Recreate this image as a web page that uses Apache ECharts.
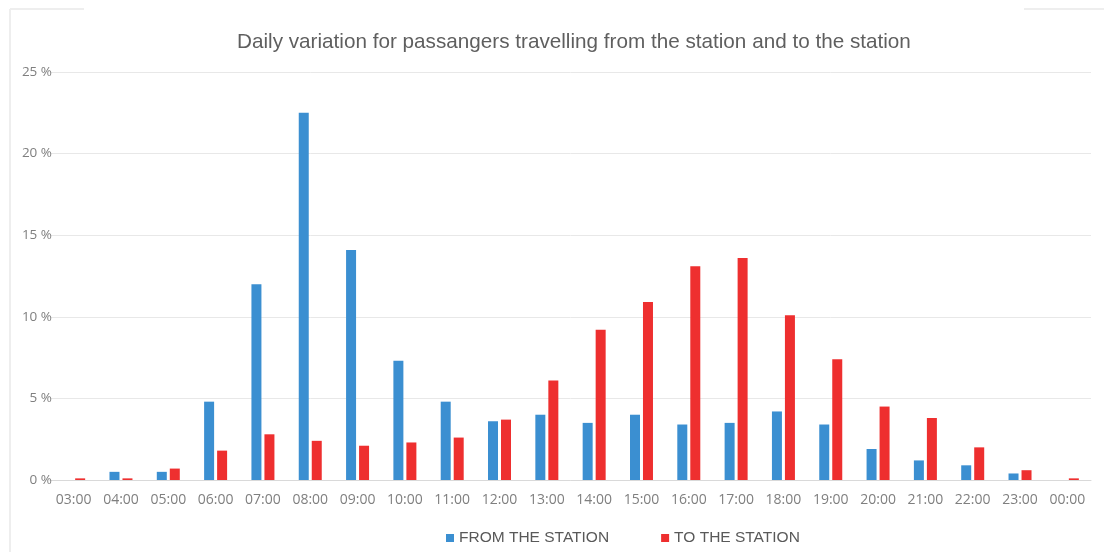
<!DOCTYPE html>
<html>
<head>
<meta charset="utf-8">
<script src="https://cdn.jsdelivr.net/npm/echarts@6/dist/echarts.min.js"></script>
<style>
html,body{margin:0;padding:0;background:#fff;}
#c{width:1104px;height:552px;}
</style>
</head>
<body>
<div id="c"></div>
<script>
var categories = ['03:00','04:00','05:00','06:00','07:00','08:00','09:00','10:00','11:00','12:00','13:00','14:00','15:00','16:00','17:00','18:00','19:00','20:00','21:00','22:00','23:00','00:00'];
var fromStation = [0, 0.5, 0.5, 4.8, 12.0, 22.5, 14.1, 7.3, 4.8, 3.6, 4.0, 3.5, 4.0, 3.4, 3.5, 4.2, 3.4, 1.9, 1.2, 0.9, 0.4, 0];
var toStation = [0.1, 0.1, 0.7, 1.8, 2.8, 2.4, 2.1, 2.3, 2.6, 3.7, 6.1, 9.2, 10.9, 13.1, 13.6, 10.1, 7.4, 4.5, 3.8, 2.0, 0.6, 0.1];
var yTicks = [0, 5, 10, 15, 20, 25];

var chart = echarts.init(document.getElementById('c'));
chart.setOption({
  animation: false,
  backgroundColor: '#ffffff',
  title: {
    text: 'Daily variation for passangers travelling from the station and to the station',
    left: 232,
    top: 27,
    textStyle: {fontFamily: 'Liberation Sans', fontSize: 20.7, fontWeight: 'normal', color: '#5f5f5f'}
  },
  legend: {
    bottom: 1,
    left: 441,
    itemWidth: 8,
    itemHeight: 8,
    itemGap: 52,
    icon: 'rect',
    textStyle: {fontFamily: 'Liberation Sans', fontSize: 15.5, color: '#595959'},
    data: ['FROM THE STATION', 'TO THE STATION']
  },
  grid: {left: 50, right: 13, top: 72, bottom: 72},
  xAxis: {
    type: 'category',
    data: categories,
    axisLine: {lineStyle: {color: '#d9d9d9', width: 1}},
    axisTick: {show: false},
    axisLabel: {fontFamily: 'Open Sans', fontSize: 14, color: '#7f7f7f', margin: 13, interval: 0}
  },
  yAxis: {
    type: 'value',
    min: yTicks[0],
    max: yTicks[yTicks.length - 1],
    interval: 5,
    axisLine: {show: false},
    axisTick: {show: false},
    splitLine: {lineStyle: {color: '#e8e8e8', width: 1}},
    axisLabel: {formatter: '{value} %', fontFamily: 'Open Sans', fontSize: 13.5, color: '#7f7f7f', margin: -2}
  },
  series: [
    {
      name: 'FROM THE STATION',
      type: 'bar',
      data: fromStation,
      barWidth: 10,
      barGap: '30%',
      itemStyle: {color: '#3b8fd1'}
    },
    {
      name: 'TO THE STATION',
      type: 'bar',
      data: toStation,
      barWidth: 10,
      itemStyle: {color: '#ee2f2f'}
    }
  ],
  graphic: [
    {type: 'line', shape: {x1: 10, y1: 9, x2: 10, y2: 552}, style: {stroke: '#eeeeee', lineWidth: 2}, silent: true},
    {type: 'line', shape: {x1: 10, y1: 9, x2: 84, y2: 9}, style: {stroke: '#eeeeee', lineWidth: 2}, silent: true},
    {type: 'line', shape: {x1: 1024, y1: 9, x2: 1104, y2: 9}, style: {stroke: '#eeeeee', lineWidth: 2}, silent: true}
  ]
});
</script>
</body>
</html>
